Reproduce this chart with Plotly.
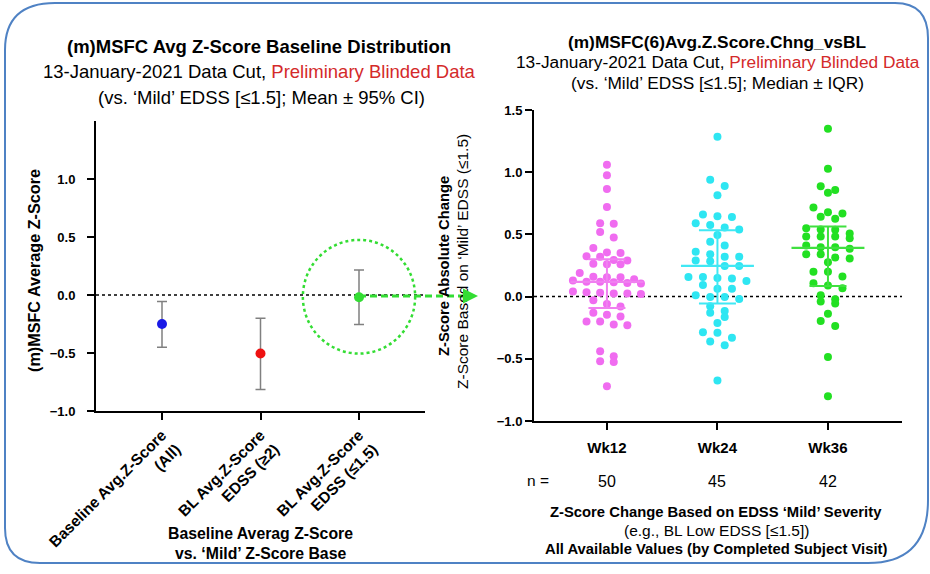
import numpy as np
import plotly.graph_objects as go

W, H = 930, 574
FONT = "Liberation Sans, Arial, sans-serif"

# ---------------- data: left panel ----------------
base_categories = ["Baseline Avg.Z-Score<br>(All)", "BL Avg.Z-Score<br>EDSS (≥2)", "BL Avg.Z-Score<br>EDSS (≤1.5)"]
base_means = [-0.25, -0.505, -0.02]
base_ci_low = [-0.45, -0.815, -0.255]
base_ci_high = [-0.055, -0.20, 0.215]
base_colors = ["#1a1ae6", "#ee1111", "#33dd33"]

# ---------------- data: right panel ----------------
visit_labels = ["Wk12", "Wk24", "Wk36"]
visit_n = [50, 45, 42]
wk12 = [1.06, 0.975, 0.865, 0.72, 0.59, 0.585, 0.52, 0.475, 0.39, 0.355, 0.35, 0.325, 0.32,
        0.295, 0.29, 0.265, 0.26, 0.26, 0.19, 0.16, 0.155, 0.155, 0.14, 0.13, 0.12, 0.12,
        0.115, 0.11, 0.105, 0.04, 0.035, 0.03, 0.025, 0.025, 0.02, -0.03, -0.06, -0.08,
        -0.13, -0.145, -0.16, -0.2, -0.2, -0.225, -0.23, -0.44, -0.48, -0.52, -0.525, -0.72]
wk24 = [1.285, 0.94, 0.89, 0.815, 0.66, 0.645, 0.64, 0.59, 0.575, 0.555, 0.54, 0.495, 0.44,
        0.41, 0.36, 0.34, 0.32, 0.32, 0.29, 0.285, 0.245, 0.245, 0.158, 0.158, 0.15, 0.145,
        0.126, 0.094, 0.064, 0.064, 0.01, -0.003, -0.003, -0.02, -0.078, -0.116, -0.129,
        -0.164, -0.212, -0.287, -0.29, -0.33, -0.36, -0.392, -0.674]
wk36 = [1.35, 1.028, 0.888, 0.856, 0.834, 0.716, 0.679, 0.668, 0.641, 0.625, 0.55, 0.539,
        0.537, 0.507, 0.483, 0.483, 0.483, 0.47, 0.41, 0.397, 0.397, 0.384, 0.341, 0.341,
        0.314, 0.306, 0.276, 0.2, 0.2, 0.161, 0.107, 0.089, 0.067, 0.011, -0.021, -0.04,
        -0.056, -0.137, -0.196, -0.236, -0.486, -0.802]
visit_medians = [0.118, 0.247, 0.392]
visit_q1 = [-0.091, -0.056, 0.086]
visit_q3 = [0.30, 0.534, 0.563]
visit_colors = ["#f06cf0", "#2ee6f2", "#22e022"]
visit_line_colors = ["#f080f0", "#40e8f4", "#40e040"]


def px_x(p):
    return p / W


def px_y(p):
    return 1 - p / H


def swarm_offsets(values, row_h, step_px, max_width_px, px_per_unit):
    """Prism-like column scatter: group close values in rows, centre each row."""
    vals = np.asarray(values, dtype=float)
    order = np.argsort(-vals)
    rows, cur, start = [], [], None
    for i in order:
        if start is None or start - vals[i] > row_h:
            if cur:
                rows.append(cur)
            cur, start = [i], vals[i]
        else:
            cur.append(i)
    rows.append(cur)
    maxn = max(len(r) for r in rows)
    step = min(step_px, max_width_px / max(maxn - 1, 1)) / px_per_unit
    offs = np.zeros(len(vals))
    for r in rows:
        k = len(r)
        for j, idx in enumerate(r):
            offs[idx] = (j - (k - 1) / 2) * step
    return offs


fig = go.Figure()

# ---------- left panel traces ----------
for i, (m, lo, hi, c) in enumerate(zip(base_means, base_ci_low, base_ci_high, base_colors)):
    fig.add_trace(go.Scatter(
        x=[i], y=[m], mode="markers", xaxis="x", yaxis="y",
        marker=dict(size=10, color=c),
        error_y=dict(type="data", symmetric=False, array=[hi - m], arrayminus=[m - lo],
                     color="#808080", thickness=1.5, width=5),
        showlegend=False, hoverinfo="skip"))

# ---------- right panel traces ----------
PX_PER_UNIT_X2 = 110.5
for i, (vals, c, lc, med, q1, q3) in enumerate(zip([wk12, wk24, wk36], visit_colors, visit_line_colors,
                                                    visit_medians, visit_q1, visit_q3)):
    offs = swarm_offsets(vals, 0.05, 14.5, 68, PX_PER_UNIT_X2)
    fig.add_trace(go.Scatter(
        x=i + offs, y=vals, mode="markers", xaxis="x2", yaxis="y2",
        marker=dict(size=8, color=c), showlegend=False, hoverinfo="skip"))
    fig.add_trace(go.Scatter(
        x=[i], y=[med], mode="markers", xaxis="x2", yaxis="y2",
        marker=dict(size=1, color="rgba(0,0,0,0)"),
        error_y=dict(type="data", symmetric=False, array=[q3 - med], arrayminus=[med - q1],
                     color=lc, thickness=2, width=18.5),
        error_x=dict(type="data", array=[0.33], color=lc, thickness=2.2, width=0),
        showlegend=False, hoverinfo="skip"))

axis_common = dict(showline=True, linecolor="black", linewidth=2, ticks="outside",
                   ticklen=7, tickwidth=2, tickcolor="black", showgrid=False, zeroline=False,
                   automargin=False,
                   tickfont=dict(family=FONT, size=13, color="black", weight="bold"))

fig.update_layout(
    width=W, height=H,
    margin=dict(l=0, r=0, t=0, b=0, autoexpand=False),
    paper_bgcolor="white", plot_bgcolor="rgba(0,0,0,0)",
    xaxis=dict(domain=[px_x(96), px_x(425)], range=[-0.67, 2.67], tickvals=[0, 1, 2],
               ticktext=base_categories, tickangle=-45, anchor="y", **axis_common),
    yaxis=dict(domain=[px_y(411), px_y(121)], range=[-1.0, 1.5], tickvals=[-1.0, -0.5, 0.0, 0.5, 1.0],
               tickformat=".1f", anchor="x", ticklabelstandoff=9, **axis_common),
    xaxis2=dict(domain=[px_x(534), px_x(902)], range=[-0.66, 2.67], tickvals=[0, 1, 2],
                ticktext=visit_labels, anchor="y2", ticklabelstandoff=5, **axis_common),
    yaxis2=dict(domain=[px_y(421), px_y(110)], range=[-1.0, 1.5],
                tickvals=[-1.0, -0.5, 0.0, 0.5, 1.0, 1.5], tickformat=".1f", anchor="x2",
                **axis_common),
)
fig.update_layout(xaxis_tickfont=dict(family=FONT, size=15.5, color="black", weight="bold"),
                  xaxis2_tickfont=dict(family=FONT, size=15, color="black", weight="bold"))

# ---------- shapes ----------
frame_path = (f"M {px_x(5)},{px_y(50)} Q {px_x(5)},{px_y(3)} {px_x(55)},{px_y(3)} "
              f"L {px_x(895)},{px_y(3)} Q {px_x(928)},{px_y(3)} {px_x(928)},{px_y(38)} "
              f"L {px_x(928)},{px_y(500)} Q {px_x(928)},{px_y(563)} {px_x(868)},{px_y(563)} "
              f"L {px_x(40)},{px_y(563)} Q {px_x(5)},{px_y(563)} {px_x(5)},{px_y(528)} Z")
shapes = [
    dict(type="path", path=frame_path, xref="paper", yref="paper",
         line=dict(color="#4f82c4", width=2), fillcolor="white", layer="below"),
    dict(type="line", xref="x domain", yref="y", x0=0, x1=1, y0=0, y1=0,
         line=dict(color="black", width=1.5, dash="dot"), layer="below"),
    dict(type="line", xref="x2 domain", yref="y2", x0=0, x1=1, y0=0, y1=0,
         line=dict(color="black", width=1.5, dash="dot"), layer="below"),
    dict(type="circle", xref="x", yref="y", x0=2 - 0.57, x1=2 + 0.57, y0=-0.015 - 0.49, y1=-0.015 + 0.49,
         line=dict(color="#33dd33", width=2.5, dash="dot")),
    dict(type="line", xref="paper", yref="paper", x0=px_x(359), x1=px_x(468), y0=px_y(296), y1=px_y(296),
         line=dict(color="#33dd33", width=3, dash="7px,4px")),
]
fig.update_layout(shapes=shapes)

# ---------- text ----------
ann = []


def txt(x, y, text, size, bold=False, color="black", angle=0, xanchor="center"):
    ann.append(dict(x=px_x(x), y=px_y(y), xref="paper", yref="paper", text=text, showarrow=False,
                    textangle=angle, xanchor=xanchor, yanchor="middle",
                    font=dict(family=FONT, size=size, color=color, weight="bold" if bold else "normal")))


RED = "#d42a2a"
txt(259, 47, "(m)MSFC Avg Z-Score Baseline Distribution", 18.5, bold=True)
txt(259, 72, f"13-January-2021 Data Cut, <span style='color:{RED}'>Preliminary Blinded Data</span>", 18.5)
txt(261, 97, "(vs. ‘Mild’ EDSS [≤1.5]; Mean ± 95% CI)", 18.5)

txt(717, 42, "(m)MSFC(6)Avg.Z.Score.Chng_vsBL", 17.3, bold=True)
txt(718, 62, f"13-January-2021 Data Cut, <span style='color:{RED}'>Preliminary Blinded Data</span>", 17.3)
txt(717, 83, "(vs. ‘Mild’ EDSS [≤1.5]; Median ± IQR)", 17.3)

txt(34, 271, "(m)MSFC Average Z-Score", 16.2, bold=True, angle=-90)
txt(444, 266, "Z-Score Absolute Change", 14.8, bold=True, angle=-90)
txt(462, 262, "Z-Score Based on ‘Mild’ EDSS (≤1.5)", 15.5, angle=-90)

txt(260, 533, "Baseline Averag Z-Score", 15.8, bold=True)
txt(260, 553, "vs. ‘Mild’ Z-Score Base", 15.8, bold=True)

txt(538, 480, "n =", 15.5)
for i, n in enumerate(visit_n):
    ann.append(dict(x=i, y=px_y(481), xref="x2", yref="paper", text=str(n),
                    showarrow=False, yanchor="middle",
                    font=dict(family=FONT, size=16, color="black")))

txt(716, 512, "Z-Score Change Based on EDSS ‘Mild’ Severity", 14.8, bold=True)
txt(716, 530, "(e.g., BL Low EDSS [≤1.5])", 15.5)
txt(716, 549, "All Available Values (by Completed Subject Visit)", 14.8, bold=True)

# arrowhead for the green dashed pointer
ann.append(dict(x=px_x(478), y=px_y(296), xref="paper", yref="paper", text="", showarrow=True,
                ax=-12, ay=0, arrowhead=2, arrowsize=1, arrowwidth=3, arrowcolor="#33dd33"))

fig.update_layout(annotations=ann)

fig.write_html("out.html", config={"displayModeBar": False},
               post_script="document.body.style.margin='0';document.body.style.overflow='hidden';")
